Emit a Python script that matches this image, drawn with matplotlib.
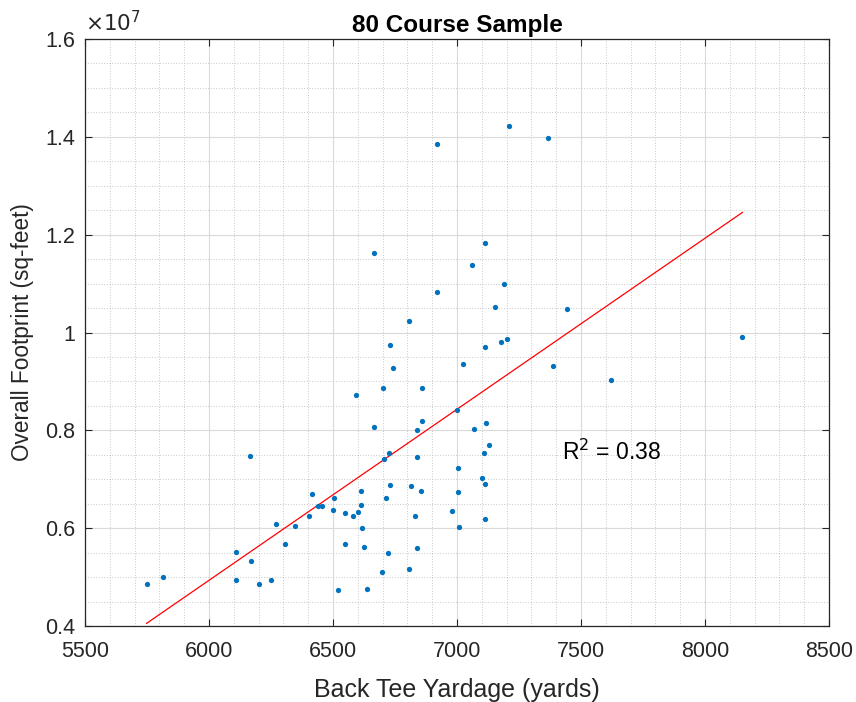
import numpy as np
import matplotlib
matplotlib.use('Agg')
import matplotlib.pyplot as plt
from matplotlib.ticker import MultipleLocator, FuncFormatter

plt.rcParams['font.family'] = ['Liberation Sans', 'DejaVu Sans']

# Back tee yardage (yards) and overall footprint (millions of sq-feet)
yardage = [5748, 5816, 6167, 6108, 6107, 6171, 6202, 6251, 6269, 6308,
           6348, 6405, 6417, 6441, 6457, 6498, 6505, 6520, 6548, 6548,
           6579, 6599, 6611, 6613, 6617, 6623, 6639, 6665, 6591, 6701,
           6706, 6725, 6730, 6714, 6720, 6697, 6859, 7001, 6860, 6839,
           7067, 7118, 7130, 7108, 6839, 7002, 7101, 7114, 6816, 6854,
           7004, 6832, 6978, 7111, 7006, 6839, 6806, 7209, 7367, 6921,
           7113, 7059, 7190, 6919, 7154, 7443, 6807, 8151, 7201, 7177,
           7114, 6728, 6741, 7024, 7389, 7619, 6666]
footprint = [4.85, 5.01, 7.47, 5.51, 4.94, 5.32, 4.85, 4.94, 6.08, 5.67,
             6.04, 6.24, 6.69, 6.46, 6.46, 6.37, 6.61, 4.73, 6.30, 5.67,
             6.24, 6.33, 6.76, 6.48, 6.01, 5.62, 4.75, 8.07, 8.73, 8.87,
             7.41, 7.53, 6.88, 6.61, 5.50, 5.11, 8.87, 8.42, 8.19, 8.01,
             8.03, 8.15, 7.69, 7.54, 7.45, 7.23, 7.03, 6.91, 6.86, 6.75,
             6.73, 6.24, 6.35, 6.19, 6.03, 5.59, 5.16, 14.22, 13.97, 13.86,
             11.82, 11.37, 11.00, 10.83, 10.52, 10.49, 10.24, 9.90, 9.86, 9.80,
             9.71, 9.74, 9.27, 9.36, 9.31, 9.03, 11.62]

x = np.array(yardage, dtype=float)
y = np.array(footprint) * 1e6

# linear fit over the sample
p = np.polyfit(x, y, 1)
xf = np.array([x.min(), x.max()])
yf = np.polyval(p, xf)
r2 = np.corrcoef(x, y)[0, 1] ** 2

dark = '#262626'
fig = plt.figure(figsize=(8.56, 7.02), dpi=100)
ax = fig.add_axes([0.0993, 0.1083, 0.8692, 0.8361])

ax.plot(x, y, 'o', color='#0072BD', ms=3.8, mec='none', zorder=3)
ax.plot(xf, yf, '-', color='red', lw=0.9, zorder=2)

ax.set_xlim(5500, 8500)
ax.set_ylim(0.4e7, 1.6e7)
ax.xaxis.set_major_locator(MultipleLocator(500))
ax.xaxis.set_minor_locator(MultipleLocator(100))
ax.yaxis.set_major_locator(MultipleLocator(0.2e7))
ax.yaxis.set_minor_locator(MultipleLocator(0.05e7))
ax.yaxis.set_major_formatter(FuncFormatter(lambda v, pos: '%g' % round(v / 1e7, 2)))

ax.grid(which='major', color='#dadada', lw=0.8, ls='-')
ax.grid(which='minor', color='#b8b8b8', lw=0.6, ls=(0, (1, 2.2)))
ax.set_axisbelow(True)

ax.tick_params(which='major', direction='in', length=5, width=0.8, top=True, right=True,
               labelsize=15.5, colors=dark)
ax.tick_params(axis='x', which='major', pad=11)
ax.tick_params(axis='y', which='major', pad=7)
ax.tick_params(which='minor', length=0, top=True, right=True)
for s in ax.spines.values():
    s.set_color(dark)
    s.set_linewidth(0.9)

ax.text(0.0, 1.005, r'$\times10^{7}$', transform=ax.transAxes, fontsize=15.5,
        color=dark, ha='left', va='bottom', math_fontfamily='dejavusans')
ax.text(7425, 7.55e6, 'R$^2$ = %.2f' % r2, fontsize=16.5, color='black', va='center')

ax.set_title('80 Course Sample', fontsize=17.5, fontweight='bold', pad=5)
ax.set_xlabel('Back Tee Yardage (yards)', fontsize=18, color=dark, labelpad=11)
ax.set_ylabel('Overall Footprint (sq-feet)', fontsize=16.3, color=dark, labelpad=8)

fig.savefig('out.png', dpi=100)
